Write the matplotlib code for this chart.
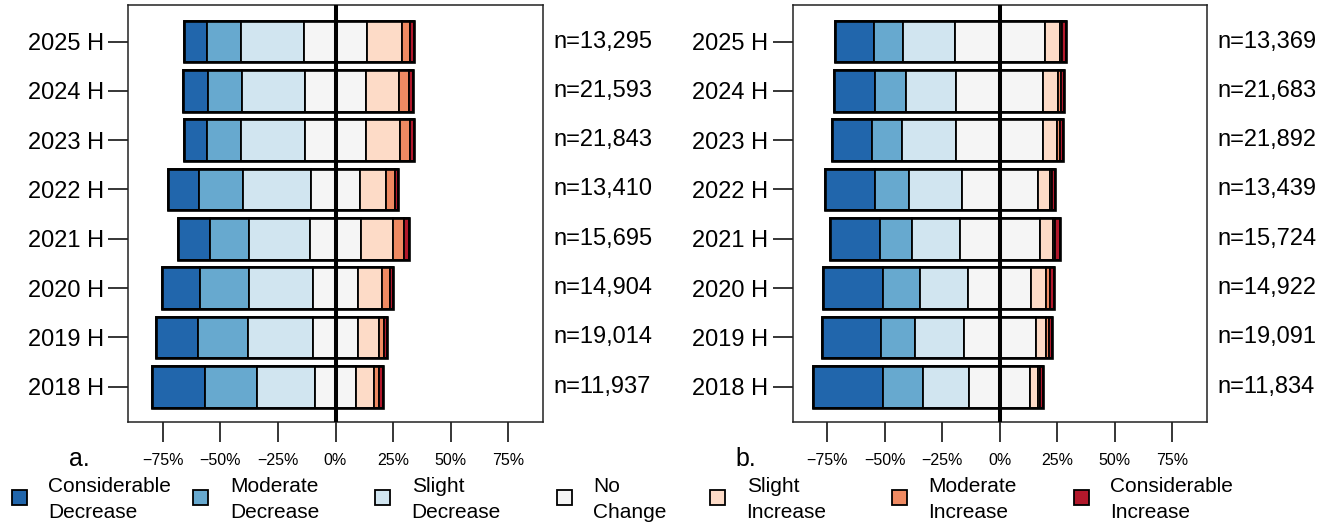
import matplotlib
matplotlib.use("Agg")
import matplotlib.pyplot as plt
from matplotlib.patches import Rectangle
import numpy as np

plt.rcParams['font.family'] = ['Liberation Sans', 'DejaVu Sans']

years = ["2018 H", "2019 H", "2020 H", "2021 H", "2022 H", "2023 H", "2024 H", "2025 H"]
categories = ["Considerable\nDecrease", "Moderate\nDecrease", "Slight\nDecrease", "No\nChange",
              "Slight\nIncrease", "Moderate\nIncrease", "Considerable\nIncrease"]
colors = ["#2166ac", "#67a9cf", "#d1e5f0", "#f5f5f5", "#fddbc7", "#ef8a62", "#b2182b"]

# Panel a (years 2018 -> 2025)
a_cons_dec = [23.1, 18.3, 16.3, 13.7, 13.7, 9.8, 11.0, 10.2]
a_mod_dec = [22.8, 21.6, 21.3, 17.2, 19.2, 14.8, 14.6, 14.6]
a_sli_dec = [24.9, 28.2, 27.9, 26.2, 29.5, 27.9, 27.6, 27.2]
a_no_chg = [18.0, 19.5, 19.3, 22.5, 21.0, 26.6, 26.4, 27.6]
a_sli_inc = [7.7, 9.0, 10.7, 13.8, 11.4, 14.5, 14.2, 15.0]
a_mod_inc = [2.4, 2.3, 3.3, 4.6, 3.8, 4.6, 4.4, 3.6]
a_cons_inc = [1.4, 1.5, 1.5, 2.1, 1.4, 1.8, 2.0, 1.8]
a_n = ["n=11,937", "n=19,014", "n=14,904", "n=15,695", "n=13,410", "n=21,843", "n=21,593", "n=13,295"]

# Panel b (years 2018 -> 2025)
b_cons_dec = [30.4, 25.5, 25.8, 21.9, 21.9, 17.1, 18.1, 16.6]
b_mod_dec = [17.4, 14.9, 16.4, 13.8, 14.8, 13.3, 13.2, 12.6]
b_sli_dec = [20.3, 21.2, 20.8, 20.7, 22.8, 23.4, 22.0, 22.7]
b_no_chg = [26.3, 31.4, 27.4, 34.9, 33.1, 37.9, 37.8, 39.0]
b_sli_inc = [3.7, 4.6, 6.5, 5.8, 5.3, 6.1, 6.4, 6.6]
b_mod_inc = [0.8, 1.0, 1.6, 1.0, 1.1, 1.2, 1.2, 1.2]
b_cons_inc = [1.3, 1.4, 1.7, 1.9, 1.0, 1.2, 1.4, 1.4]
b_n = ["n=11,834", "n=19,091", "n=14,922", "n=15,724", "n=13,439", "n=21,892", "n=21,683", "n=13,369"]

xticks = [-75, -50, -25, 0, 25, 50, 75]
xticklabels = ["\u221275%", "\u221250%", "\u221225%", "0%", "25%", "50%", "75%"]

W, H = 1332, 525
fig = plt.figure(figsize=(W / 100, H / 100), dpi=100)

def draw_panel(ax, series, nlabels, letter, letter_x):
    data = np.array(series, dtype=float)  # shape (7, nyears)
    y = np.arange(data.shape[1])
    start = -(data[0] + data[1] + data[2] + data[3] / 2.0)
    left = start.copy()
    for k in range(data.shape[0]):
        ax.barh(y, data[k], left=left, height=0.84, color=colors[k],
                edgecolor="black", linewidth=1.3, zorder=2)
        left = left + data[k]
    total = data.sum(axis=0)
    ax.barh(y, total, left=start, height=0.84, fill=False,
            edgecolor="black", linewidth=1.9, zorder=3)
    ax.axvline(0, color="black", linewidth=2.9, zorder=4)
    ax.set_xlim(-90, 90)
    ax.set_ylim(-0.72, 7.74)
    ax.set_yticks(y)
    ax.set_yticklabels(years, fontsize=17)
    ax.set_xticks(xticks)
    ax.set_xticklabels(xticklabels, fontsize=11.5)
    ax.tick_params(axis="x", length=14.4, width=1.1, pad=7.5)
    ax.tick_params(axis="y", length=14.4, width=1.1, pad=3)
    for s in ax.spines.values():
        s.set_linewidth(1.1)
        s.set_color("#222222")
    for yi, lab in zip(y, nlabels):
        ax.text(1.026, yi, lab, transform=ax.get_yaxis_transform(),
                ha="left", va="center", fontsize=17)
    fig.text(letter_x / W, 1 - 466 / H, letter, fontsize=18, ha="left", va="baseline")

ax1 = fig.add_axes([128.3 / W, 1 - 422.3 / H, 414.4 / W, 417.3 / H])
draw_panel(ax1, [a_cons_dec, a_mod_dec, a_sli_dec, a_no_chg, a_sli_inc, a_mod_inc, a_cons_inc],
           a_n, "a.", 69)

ax2 = fig.add_axes([792.7 / W, 1 - 422.3 / H, 414.0 / W, 417.3 / H])
draw_panel(ax2, [b_cons_dec, b_mod_dec, b_sli_dec, b_no_chg, b_sli_inc, b_mod_inc, b_cons_inc],
           b_n, "b.", 735)

# Legend (two groups, one under each panel)
left_group_x0, right_group_x0, step = 19.2, 717.6, 181.7
for i, (lab, col) in enumerate(zip(categories, colors)):
    if i < 4:
        cx = left_group_x0 + i * step
    else:
        cx = right_group_x0 + (i - 4) * step
    sq = 15.0
    fig.add_artist(Rectangle(((cx - sq / 2) / W, 1 - (497.5 + sq / 2) / H), sq / W, sq / H,
                             transform=fig.transFigure, facecolor=col, edgecolor="black",
                             linewidth=1.3))
    l1, l2 = lab.split("\n")
    fig.text((cx + 29) / W, 1 - 491.7 / H, l1, fontsize=15, ha="left", va="baseline")
    fig.text((cx + 29) / W, 1 - 518.3 / H, l2, fontsize=15, ha="left", va="baseline")

fig.savefig("out.png", dpi=100)
